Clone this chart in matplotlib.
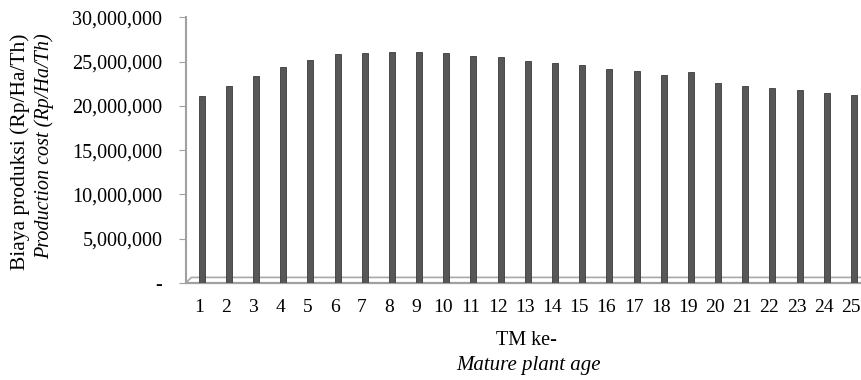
import matplotlib.pyplot as plt
import matplotlib.transforms as mtransforms
from matplotlib.ticker import FuncFormatter

plt.rcParams['font.family'] = ['Liberation Serif', 'DejaVu Serif']

tm = list(range(1, 26))
biaya = [21150000, 22240000, 23370000, 24420000, 25220000, 25830000, 25940000,
         26090000, 26090000, 25940000, 25670000, 25520000, 25100000, 24880000,
         24620000, 24200000, 23900000, 23490000, 23860000, 22550000, 22280000,
         22020000, 21760000, 21480000, 21190000]
yticks = [0, 5000000, 10000000, 15000000, 20000000, 25000000, 30000000]

fig = plt.figure(figsize=(8.61, 3.8), dpi=100)
ax = fig.add_axes([0.216, 0.256, 0.784, 0.698])

ax.bar(tm, biaya, width=0.22, color='#575757', edgecolor='#3a3a3a', linewidth=0.6, zorder=3)

# 3D-style floor
x0, x1 = 0.42, 25.26
ax.plot([x0, x1], [0, 0], color='#a0a0a0', linewidth=1.6, zorder=2, clip_on=False)
ax.plot([x0, 0.62, x1], [0, 600000, 600000], color='#a8a8a8', linewidth=1.2, zorder=2, clip_on=False)

ax.set_xlim(x0, x1)
ax.set_ylim(0, 30000000)
ax.set_yticks(yticks)
ax.yaxis.set_major_formatter(FuncFormatter(lambda v, p: '-' if v == 0 else f'{int(v):,}'))
ax.set_xticks(tm)
ax.tick_params(axis='y', length=5, color='#a0a0a0', labelsize=14.5, pad=12)
ax.tick_params(axis='x', length=0, labelsize=14, pad=12)

shift = mtransforms.ScaledTranslation(-3 / 100, 0, fig.dpi_scale_trans)
for lab in ax.get_xticklabels():
    lab.set_transform(lab.get_transform() + shift)

for s in ['top', 'right', 'bottom']:
    ax.spines[s].set_visible(False)
ax.spines['left'].set_color('#a0a0a0')
ax.spines['left'].set_linewidth(1.5)

fig.text(0.023, 0.913, 'Biaya produksi (Rp/Ha/Th)', rotation=90, ha='center', va='top', fontsize=15.5)
fig.text(0.051, 0.913, 'Production cost (Rp/Ha/Th)', rotation=90, ha='center', va='top',
         fontsize=14.5, style='italic')
fig.text(0.611, 0.105, 'TM ke-', ha='center', va='center', fontsize=14.5)
fig.text(0.614, 0.037, 'Mature plant age', ha='center', va='center', fontsize=15, style='italic')

fig.savefig('out.png', dpi=100)
